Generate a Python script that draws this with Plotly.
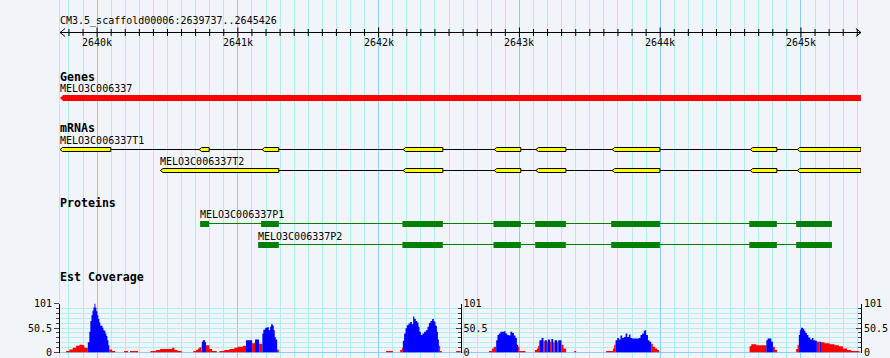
import plotly.graph_objects as go

# ---------------- data ----------------
ref_name = "CM3.5_scaffold00006"
view_start = 2639737
view_end = 2645426

ruler_major = [2640000, 2641000, 2642000, 2643000, 2644000, 2645000]
ruler_labels = ["2640k", "2641k", "2642k", "2643k", "2644k", "2645k"]

gene_name = "MELO3C006337"
gene_start = 2639737
gene_end = 2645426

t1_name = "MELO3C006337T1"
t1_starts = [2639737, 2640725, 2641172, 2642174, 2642821, 2643117, 2643659, 2644640, 2644974]
t1_ends = [2640097, 2640796, 2641291, 2642456, 2643010, 2643330, 2643998, 2644829, 2645426]

t2_name = "MELO3C006337T2"
t2_starts = [2640450, 2642174, 2642821, 2643117, 2643659, 2644640, 2644974]
t2_ends = [2641291, 2642456, 2643010, 2643330, 2643998, 2644829, 2645426]

p1_name = "MELO3C006337P1"
p1_starts = [2640732, 2641165, 2642169, 2642816, 2643112, 2643652, 2644633, 2644966]
p1_ends = [2640796, 2641291, 2642456, 2643010, 2643330, 2643998, 2644829, 2645220]

p2_name = "MELO3C006337P2"
p2_starts = [2641144, 2642169, 2642816, 2643112, 2643652, 2644633, 2644966]
p2_ends = [2641291, 2642456, 2643010, 2643330, 2643998, 2644829, 2645220]

cov_tick_vals = [0, 50.5, 101]
cov_tick_text = ["0", "50.5", "101"]

# EST coverage segments (start, end, depth, group r=red / b=blue)
cov_start = [
    2639780, 2639803, 2639827, 2639851, 2639874, 2639898, 2639910,
    2639934, 2639945, 2639952, 2639960, 2639967, 2639974, 2639981, 2639988, 2639995, 2640002,
    2640009, 2640016, 2640023, 2640038, 2640045, 2640052, 2640059, 2640066, 2640073, 2640080,
    2640087, 2640107,
    2640192, 2640234,
    2640379, 2640419, 2640448, 2640533, 2640549, 2640573,
    2640683, 2640703, 2640715, 2640727, 2640739, 2640744, 2640751, 2640767, 2640774, 2640798, 2640817,
    2640869, 2640904, 2640940, 2640975, 2640999, 2641035, 2641058, 2641101, 2641122, 2641151,
    2641174, 2641181, 2641194, 2641208, 2641220, 2641229, 2641236, 2641248, 2641255, 2641262,
    2641269, 2641279,
    2642053,
    2642153, 2642165, 2642172, 2642181, 2642191, 2642200, 2642212, 2642224, 2642236, 2642245,
    2642254, 2642264, 2642274, 2642283, 2642290, 2642300, 2642311, 2642323, 2642335, 2642347,
    2642357, 2642368, 2642380, 2642392, 2642404, 2642414, 2642421, 2642428, 2642437,
    2642551,
    2642783, 2642806, 2642818, 2642835, 2642844, 2642854, 2642865, 2642889, 2642901, 2642913,
    2642925, 2642936, 2642949, 2642961, 2642972, 2642982, 2642991, 2643000,
    2643110, 2643124, 2643133, 2643142, 2643157, 2643171, 2643180, 2643195, 2643202, 2643218,
    2643227, 2643240, 2643250, 2643268, 2643276, 2643299, 2643313,
    2643389,
    2643616, 2643664, 2643673, 2643683, 2643695, 2643707, 2643718, 2643730, 2643742, 2643754,
    2643766, 2643778, 2643789, 2643801, 2643849, 2643860, 2643872, 2643884, 2643891, 2643900,
    2643913, 2643924, 2643936, 2643948, 2643964, 2643979,
    2644635, 2644647, 2644683, 2644754, 2644763, 2644789, 2644801, 2644815,
    2644966, 2644976, 2644985, 2644992, 2644999, 2645014, 2645023, 2645032, 2645042, 2645053,
    2645066, 2645078, 2645089, 2645101, 2645113, 2645132, 2645142, 2645167, 2645203, 2645238,
    2645270, 2645298, 2645327, 2645357,
]
cov_end = [
    2639803, 2639827, 2639851, 2639874, 2639898, 2639910, 2639934,
    2639945, 2639952, 2639960, 2639967, 2639974, 2639981, 2639988, 2639995, 2640002, 2640009,
    2640016, 2640023, 2640038, 2640045, 2640052, 2640059, 2640066, 2640073, 2640080, 2640087,
    2640107, 2640128,
    2640220, 2640291,
    2640419, 2640448, 2640533, 2640549, 2640573, 2640601,
    2640703, 2640715, 2640727, 2640739, 2640744, 2640751, 2640767, 2640774, 2640798, 2640817, 2640850,
    2640904, 2640940, 2640975, 2640999, 2641035, 2641058, 2641101, 2641122, 2641151, 2641174,
    2641181, 2641194, 2641208, 2641220, 2641229, 2641236, 2641248, 2641255, 2641262, 2641269,
    2641279, 2641291,
    2642101,
    2642165, 2642172, 2642181, 2642191, 2642200, 2642212, 2642224, 2642236, 2642245, 2642254,
    2642264, 2642274, 2642283, 2642290, 2642300, 2642311, 2642323, 2642335, 2642347, 2642357,
    2642368, 2642380, 2642392, 2642404, 2642414, 2642421, 2642428, 2642437, 2642449,
    2642583,
    2642806, 2642818, 2642835, 2642844, 2642854, 2642865, 2642889, 2642901, 2642913, 2642925,
    2642936, 2642949, 2642961, 2642972, 2642982, 2642991, 2643000, 2643043,
    2643124, 2643133, 2643142, 2643157, 2643171, 2643180, 2643195, 2643202, 2643218, 2643227,
    2643240, 2643250, 2643268, 2643276, 2643299, 2643313, 2643332,
    2643403,
    2643664, 2643673, 2643683, 2643695, 2643707, 2643718, 2643730, 2643742, 2643754, 2643766,
    2643778, 2643789, 2643801, 2643849, 2643860, 2643872, 2643884, 2643891, 2643900, 2643913,
    2643924, 2643936, 2643948, 2643964, 2643979, 2643993,
    2644647, 2644683, 2644754, 2644763, 2644789, 2644801, 2644815, 2644830,
    2644976, 2644985, 2644992, 2644999, 2645014, 2645023, 2645032, 2645042, 2645053, 2645066,
    2645078, 2645089, 2645101, 2645113, 2645132, 2645142, 2645167, 2645203, 2645238, 2645270,
    2645298, 2645327, 2645357, 2645416,
]
cov_value = [
    3, 6, 10, 14, 16, 15, 10,
    21, 43, 65, 77, 86, 93, 101, 93, 85, 77,
    69, 62, 55, 51, 46, 45, 39, 34, 25, 15,
    6, 3,
    3, 3,
    3, 5, 7, 10, 5, 3,
    3, 5, 8, 11, 18, 22, 25, 21, 15, 7, 3,
    3, 5, 7, 10, 12, 14, 25, 19, 27, 18,
    39, 47, 51, 52, 46, 53, 58, 55, 46, 32,
    27, 6,
    3,
    5, 10, 24, 39, 50, 56, 60, 63, 58, 74,
    69, 65, 62, 53, 43, 36, 39, 43, 46, 53,
    61, 65, 69, 64, 55, 43, 27, 14, 3,
    3,
    3, 8, 12, 25, 36, 39, 43, 44, 39, 36,
    35, 43, 40, 35, 30, 16, 12, 3,
    5, 8, 14, 25, 30, 23, 25, 22, 27, 22,
    28, 21, 25, 22, 25, 16, 8,
    3,
    3, 8, 16, 25, 30, 27, 35, 30, 32, 39,
    32, 37, 30, 29, 30, 36, 39, 45, 46, 36,
    25, 22, 18, 12, 8, 5,
    13, 17, 15, 25, 29, 22, 12, 5,
    7, 16, 36, 46, 51, 49, 45, 40, 36, 31,
    27, 30, 25, 24, 22, 22, 21, 19, 17, 15,
    13, 8, 5, 3,
]
cov_group = list(
    "rrrrrrr" "bbbbbbbbbb" "bbbbbbbbbb" "rr"
    "rr"
    "rrrrrr"
    "rrrrrbbbrrr"
    "rrrrrrbrbr" "bbbbbbbbbb" "br"
    "r"
    "rrbbbbbbbb" "bbbbbbbbbb" "bbbbbbbrr"
    "r"
    "rrrbbbbbbb" "bbbbbbrr"
    "rrrbbrbrbr" "brbrbrr"
    "r"
    "rrrbbbbbbb" "bbbbbbbbbb" "bbrrrr"
    "rrrbbbrr"
    "rrbbbbbbbb" "bbbbrbrrrr" "rrrr"
)
assert len(cov_start) == len(cov_end) == len(cov_value) == len(cov_group)

# ---------------- style / layout ----------------
W, H = 890, 358
ML, MR = 60, 29
BP_PER_PX = (view_end - view_start + 1) / (W - ML - MR)
BG = "#F1F5FA"
MINOR = "#AFEEEE"
MAJOR = "#87CEFA"
RED, BLUE, YELLOW, GREEN = "#FF0000", "#0000FF", "#FFFF00", "#008000"
MONO = "DejaVu Sans Mono"

# track rows (pixel rows from the top)
Y_RULER_LABEL, Y_RULER, Y_RULER_TL = 21, 32.5, 42.5
Y_GENES_T, Y_GENE_L, Y_GENE = 77, 88, 98
Y_MRNA_T, Y_T1_L, Y_T1, Y_T2_L, Y_T2 = 128, 140, 149.5, 161, 170.5
Y_PROT_T, Y_P1_L, Y_P1, Y_P2_L, Y_P2 = 203, 214, 221, 236, 242
Y_COV_T = 277
COV_ZERO_ROW, COV_TOP_ROW = 352.5, 303.5


def px(n):
    return n * BP_PER_PX


fig = go.Figure()

# ruler
fig.add_trace(go.Scatter(x=[view_start, view_end], y=[Y_RULER, Y_RULER], mode="lines",
                         line=dict(color="black", width=1)))
tx, ty = [], []
t = (view_start // 100 + 1) * 100
while t < view_end:
    if t % 1000 == 0:
        tx += [t, t, None]
        ty += [Y_RULER - 5, Y_RULER + 5, None]
    else:
        tx += [t, t, None]
        ty += [Y_RULER - 3.5, Y_RULER + 3.5, None]
    t += 100
fig.add_trace(go.Scatter(x=tx, y=ty, mode="lines", line=dict(color="black", width=1)))
fig.add_trace(go.Scatter(
    x=[view_start + px(5), view_start, view_start + px(5), None,
       view_end - px(5), view_end, view_end - px(5)],
    y=[Y_RULER - 4, Y_RULER, Y_RULER + 4, None, Y_RULER - 4, Y_RULER, Y_RULER + 4],
    mode="lines", line=dict(color="black", width=1)))

# gene
tip = px(3)
fig.add_trace(go.Scatter(
    x=[gene_start, gene_start + tip, gene_end, gene_end, gene_start + tip, gene_start],
    y=[Y_GENE, Y_GENE - 3, Y_GENE - 3, Y_GENE + 3, Y_GENE + 3, Y_GENE],
    fill="toself", fillcolor=RED, mode="lines", line=dict(width=0, color=RED)))


def add_transcript(starts, ends, yc):
    fig.add_trace(go.Scatter(x=[min(starts), max(ends)], y=[yc, yc], mode="lines",
                             line=dict(color="black", width=1)))
    xs, ys = [], []
    tp = px(2.5)
    for s, e in zip(starts, ends):
        xs += [s, s + tp, e, e, s + tp, s, None]
        ys += [yc, yc - 2, yc - 2, yc + 2, yc + 2, yc, None]
    fig.add_trace(go.Scatter(x=xs, y=ys, fill="toself", fillcolor=YELLOW, mode="lines",
                             line=dict(color="black", width=1)))


def add_protein(starts, ends, ytop):
    fig.add_trace(go.Scatter(x=[min(starts), max(ends)], y=[ytop + 2.5, ytop + 2.5], mode="lines",
                             line=dict(color=GREEN, width=1)))
    xs, ys = [], []
    for s, e in zip(starts, ends):
        xs += [s, e, e, s, s, None]
        ys += [ytop, ytop, ytop + 6, ytop + 6, ytop, None]
    fig.add_trace(go.Scatter(x=xs, y=ys, fill="toself", fillcolor=GREEN, mode="lines",
                             line=dict(color=GREEN, width=0)))


add_transcript(t1_starts, t1_ends, Y_T1)
add_transcript(t2_starts, t2_ends, Y_T2)
add_protein(p1_starts, p1_ends, Y_P1)
add_protein(p2_starts, p2_ends, Y_P2)

# coverage: step outlines per colour group (one closed polygon per contiguous run)
for grp, col in (("r", RED), ("b", BLUE)):
    xs, ys = [], []
    run_open = False
    for i in range(len(cov_start)):
        if cov_group[i] != grp:
            continue
        s, e, v = cov_start[i], cov_end[i], cov_value[i]
        if not run_open:
            xs += [s]
            ys += [0]
        xs += [s, e]
        ys += [v, v]
        nxt = i + 1
        contiguous = (nxt < len(cov_start) and cov_group[nxt] == grp
                      and cov_start[nxt] == e)
        if contiguous:
            run_open = True
        else:
            xs += [e, None]
            ys += [0, None]
            run_open = False
    fig.add_trace(go.Scatter(x=xs, y=ys, yaxis="y2", mode="lines", fill="toself",
                             fillcolor=col, line=dict(width=0, color=col)))

# dummy traces so the extra coverage axes are drawn
for ax in ("y3", "y4"):
    fig.add_trace(go.Scatter(x=[view_start], y=[0], yaxis=ax, mode="markers",
                             marker=dict(opacity=0)))

# text
small = dict(family=MONO, size=10, color="black")
bold = dict(family=MONO, size=11.6, color="black", weight="bold")


def label(x, y, text, font, anchor="left"):
    fig.add_annotation(x=x, y=y, xref="x", yref="y", text=text, showarrow=False,
                       xanchor=anchor, yanchor="middle", font=font, borderpad=0, borderwidth=0)


label(view_start, Y_RULER_LABEL, f"{ref_name}:{view_start}..{view_end}", small)
for tv, tl in zip(ruler_major, ruler_labels):
    label(tv, Y_RULER_TL, tl, small, "center")
label(view_start, Y_GENES_T, "Genes", bold)
label(gene_start, Y_GENE_L, gene_name, small)
label(view_start, Y_MRNA_T, "mRNAs", bold)
label(t1_starts[0], Y_T1_L, t1_name, small)
label(t2_starts[0], Y_T2_L, t2_name, small)
label(view_start, Y_PROT_T, "Proteins", bold)
label(p1_starts[0], Y_P1_L, p1_name, small)
label(p2_starts[0], Y_P2_L, p2_name, small)
label(view_start, Y_COV_T, "Est Coverage", bold)

cov_dom = [(H - COV_ZERO_ROW) / H, (H - COV_TOP_ROW) / H]
cov_axis_common = dict(range=[0, 101], tickvals=cov_tick_vals, ticktext=cov_tick_text,
                       tickfont=small, showline=True, linecolor="black", linewidth=1,
                       fixedrange=True, automargin=False)

fig.update_layout(
    width=W, height=H, margin=dict(l=ML, r=MR, t=0, b=0, pad=0, autoexpand=False),
    paper_bgcolor=BG, plot_bgcolor="rgba(0,0,0,0)",
    showlegend=False, hovermode=False,
    xaxis=dict(range=[view_start - 0.5, view_end + 0.5], showticklabels=False, ticks="",
               showgrid=True, gridcolor=MAJOR, gridwidth=1, tick0=2640000, dtick=1000,
               zeroline=False, showline=False, fixedrange=True, automargin=False,
               minor=dict(tick0=2640000, dtick=100, showgrid=True, gridcolor=MINOR,
                          gridwidth=1, ticks="")),
    yaxis=dict(range=[H, 0], domain=[0, 1], showgrid=False, zeroline=False,
               showticklabels=False, ticks="", showline=True, linecolor=MINOR,
               linewidth=1, fixedrange=True, automargin=False),
    yaxis2=dict(domain=cov_dom, anchor="x", side="left", ticks="outside", ticklen=5,
                showgrid=True, gridcolor=MINOR, zeroline=True, zerolinecolor=MAJOR,
                zerolinewidth=1,
                minor=dict(ticks="outside", ticklen=3, tick0=0, dtick=10.1,
                           showgrid=True, gridcolor=MINOR),
                **cov_axis_common),
    yaxis3=dict(overlaying="y2", anchor="free", position=0.5, side="right",
                ticks="inside", ticklen=5, showgrid=False, zeroline=False,
                minor=dict(ticks="inside", ticklen=3, tick0=0, dtick=10.1, showgrid=False),
                **cov_axis_common),
    yaxis4=dict(overlaying="y2", anchor="free", position=1.0, side="right",
                ticks="inside", ticklen=5, showgrid=False, zeroline=False,
                minor=dict(ticks="inside", ticklen=3, tick0=0, dtick=10.1, showgrid=False),
                **cov_axis_common),
)

fig.write_html(
    "out.html",
    config={"displayModeBar": False, "staticPlot": True},
    post_script="document.body.style.margin='0';document.body.style.background='" + BG + "';",
)
